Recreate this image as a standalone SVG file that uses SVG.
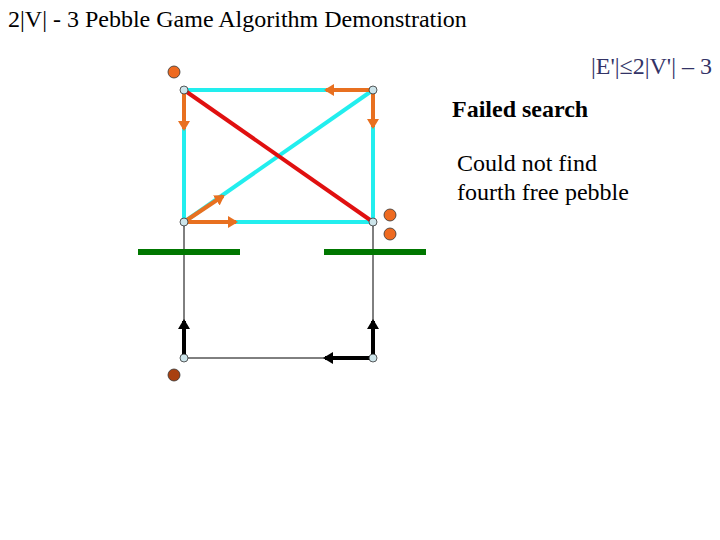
<svg xmlns="http://www.w3.org/2000/svg" width="720" height="540" viewBox="0 0 720 540">
<style>
.t{font-family:"Liberation Serif","Times New Roman",serif;font-size:24px;fill:#000}
.cy{stroke:#22eeee;stroke-width:4;fill:none}
.rd{stroke:#e01010;stroke-width:4;fill:none}
.or{stroke:#e87020;stroke-width:4;fill:none}
.bk{stroke:#000;stroke-width:1;fill:none}
.bkt{stroke:#000;stroke-width:4;fill:none}
.gr{stroke:#007700;stroke-width:6}
.v{fill:#cce4ea;stroke:#333;stroke-width:0.8}
.p{fill:#ee6a20;stroke:#333;stroke-width:0.8}
.pb{fill:#a84010;stroke:#333;stroke-width:0.8}
</style>
<defs>
<marker id="ao" markerWidth="4" markerHeight="4" refX="2" refY="2" orient="auto" markerUnits="strokeWidth"><path d="M0,0.5 L2.5,2 L0,3.5 Z" fill="#e87020"/></marker>
<marker id="ab" markerWidth="4" markerHeight="4" refX="2" refY="2" orient="auto" markerUnits="strokeWidth"><path d="M0,0.5 L2.5,2 L0,3.5 Z" fill="#000"/></marker>
</defs>
<text class="t" x="8" y="27">2|V| - 3 Pebble Game Algorithm Demonstration</text>
<text class="t" x="712" y="74" text-anchor="end" style="fill:#333366">|E'|≤2|V'| – 3</text>
<text class="t" x="452" y="117" font-weight="bold">Failed search</text>
<text class="t" x="457" y="171">Could not find</text>
<text class="t" x="457" y="200">fourth free pebble</text>
<g id="connectors">
<line class="cy" x1="184" y1="90" x2="373" y2="90"/>
<line class="cy" x1="184" y1="90" x2="184" y2="222"/>
<line class="cy" x1="373" y1="90" x2="373" y2="222"/>
<line class="cy" x1="184" y1="222" x2="373" y2="222"/>
<line class="cy" x1="184" y1="222" x2="373" y2="90"/>
<line class="rd" x1="184" y1="90" x2="373" y2="222"/>
<line class="or" x1="373" y1="90" x2="326" y2="90" marker-end="url(#ao)"/>
<line class="or" x1="184" y1="90" x2="184" y2="129" marker-end="url(#ao)"/>
<line class="or" x1="373" y1="90" x2="373" y2="127" marker-end="url(#ao)"/>
<line class="or" x1="184" y1="222" x2="236" y2="222" marker-end="url(#ao)"/>
<line class="or" x1="184" y1="222" x2="223" y2="196" marker-end="url(#ao)"/>
<line class="bk" x1="184" y1="222" x2="184" y2="358"/>
<line class="bk" x1="373" y1="222" x2="373" y2="358"/>
<line class="bk" x1="184" y1="358" x2="373" y2="358"/>
<line class="bkt" x1="184" y1="358" x2="184" y2="321" marker-end="url(#ab)"/>
<line class="bkt" x1="373" y1="358" x2="373" y2="321" marker-end="url(#ab)"/>
<line class="bkt" x1="373" y1="358" x2="325" y2="358" marker-end="url(#ab)"/>
<line class="gr" x1="138" y1="252" x2="240" y2="252"/>
<line class="gr" x1="324" y1="252" x2="426" y2="252"/>
</g>
<g id="n1"><circle class="v" cx="184" cy="90" r="4"/></g>
<g id="n2"><circle class="v" cx="373" cy="90" r="4"/></g>
<g id="n3"><circle class="v" cx="184" cy="222" r="4"/></g>
<g id="n4"><circle class="v" cx="373" cy="222" r="4"/></g>
<g id="n5"><circle class="v" cx="184" cy="358" r="4"/></g>
<g id="n6"><circle class="v" cx="373" cy="358" r="4"/></g>
<g id="pebbles">
<circle class="p" cx="174" cy="72" r="6"/>
<circle class="p" cx="390" cy="215" r="6"/>
<circle class="p" cx="390" cy="234" r="6"/>
<circle class="pb" cx="174" cy="375" r="6"/>
</g>
</svg>
